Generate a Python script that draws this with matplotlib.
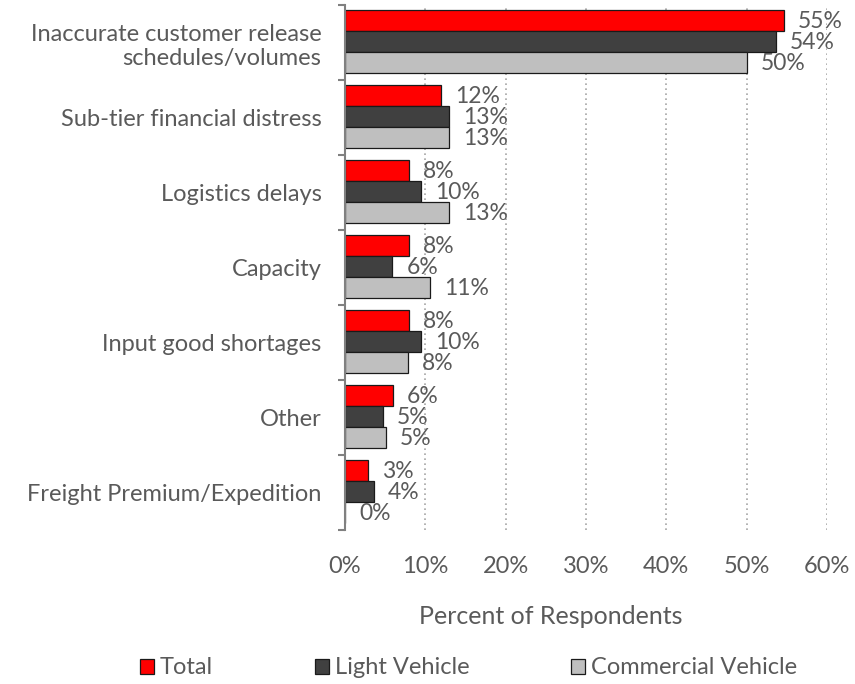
import matplotlib.pyplot as plt
import numpy as np
from matplotlib.patches import Patch

categories = [
    "Inaccurate customer release\nschedules/volumes",
    "Sub-tier financial distress",
    "Logistics delays",
    "Capacity",
    "Input good shortages",
    "Other",
    "Freight Premium/Expedition",
]
series_names = ["Total", "Light Vehicle", "Commercial Vehicle"]
total = [54.6, 12.0, 8.0, 8.0, 8.0, 6.0, 2.9]
light_vehicle = [53.6, 13.0, 9.5, 5.9, 9.5, 4.7, 3.6]
commercial_vehicle = [50.0, 13.0, 13.0, 10.6, 7.8, 5.1, 0.0]
x_ticks = [0, 10, 20, 30, 40, 50, 60]

colors = ["#ff0000", "#404040", "#bfbfbf"]
text_color = "#5a5a5a"

plt.rcParams["font.family"] = ["Lato", "DejaVu Sans"]

fig = plt.figure(figsize=(8.55, 6.84), dpi=100)
ax = fig.add_axes([345 / 855, 1 - 530 / 684, (827 - 345) / 855, 525 / 684])

n = len(categories)
y = np.arange(n)
h = 0.28
all_series = [total, light_vehicle, commercial_vehicle]
for k, (vals, col) in enumerate(zip(all_series, colors)):
    pos = y + (k - 1) * h - 0.013
    ax.barh(pos, vals, height=h, color=col, edgecolor="#1a1a1a", linewidth=0.9, zorder=3)
    for p, v in zip(pos, vals):
        ax.annotate(f"{v:.0f}%", (v, p), xytext=(10, -1), textcoords="offset points",
                    va="center", ha="left", fontsize=16.5, color=text_color, zorder=4)

ax.set_ylim(n - 0.5, -0.5)
ax.set_xlim(0, 60)

ax.set_yticks(y)
ax.set_yticklabels(categories, fontsize=17, color=text_color)
ax.set_yticks(np.arange(-0.5, n, 1.0), minor=True)
ax.tick_params(axis="y", which="major", length=0, pad=17)
ax.tick_params(axis="y", which="minor", length=5, width=1.5, color="#808080")

ax.set_xticks(x_ticks)
ax.set_xticklabels([f"{t}%" for t in x_ticks], fontsize=17, color=text_color)
ax.tick_params(axis="x", length=0, pad=19)
ax.set_xlabel("Percent of Respondents", fontsize=18, color=text_color, labelpad=20)
ax.xaxis.label.set_x(0.427)

ax.grid(axis="x", linestyle=(0, (1, 2)), color="#a6a6a6", linewidth=1.2, zorder=0)
for s in ["top", "right", "bottom"]:
    ax.spines[s].set_visible(False)
ax.spines["left"].set_color("#808080")
ax.spines["left"].set_linewidth(1.5)
ax.spines["left"].set_zorder(5)

handles = [Patch(facecolor=c, edgecolor="#1a1a1a", linewidth=0.9) for c in colors]
fig.legend(handles, series_names, loc="center", bbox_to_anchor=(0.548, 1 - 668 / 684),
           ncol=3, frameon=False, fontsize=17, handlelength=0.6, handleheight=0.6,
           handletextpad=0.25, columnspacing=4.3, labelcolor=text_color)

fig.savefig("out.png", dpi=100)
